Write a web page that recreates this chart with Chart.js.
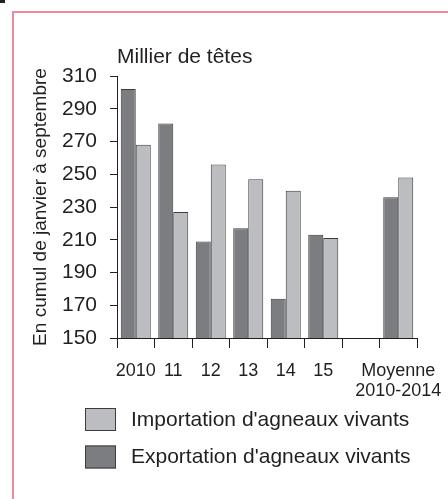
<!DOCTYPE html>
<html>
<head>
<meta charset="utf-8">
<script src="https://cdn.jsdelivr.net/npm/chart.js@4"></script>
<style>
  body { margin: 0; background: #fff; }
  #wrap { position: relative; width: 448px; height: 499px; overflow: hidden; }
  #frame { position: absolute; left: 12px; top: 11px; width: 460px; height: 520px; border: 2px solid #ea8a9b; box-sizing: border-box; }
  #mark { position: absolute; left: 0; top: 0; width: 5px; height: 3px; background: #222; }
  canvas { position: absolute; left: 0; top: 0; }
</style>
</head>
<body>
<div id="wrap">
  <div id="frame"></div>
  <div id="mark"></div>
  <canvas id="chart" width="448" height="499"></canvas>
</div>
<script>
// categories (empty slot between 15 and the average, as in the original)
const years = ['2010', '11', '12', '13', '14', '15', '', ['Moyenne', '2010-2014']];

// thousand heads, cumulated january to september
const exportValues = [302, 281, 209, 217, 174, 213, null, 236];
const importValues = [268, 227, 256, 247, 240, 211, null, 248];

const yMin = 150;
const yMax = 310;
const yStep = 20;

const ink = '#231f20';
const font = 'Arial, "Liberation Sans", sans-serif';

// unit label above the y axis + legend drawn under the axis
const extras = {
    id: 'extras',
    afterDraw(chart) {
        const ctx = chart.ctx;
        const area = chart.chartArea;

        ctx.save();
        ctx.fillStyle = ink;
        ctx.font = '21px ' + font;
        ctx.textBaseline = 'alphabetic';
        ctx.textAlign = 'left';
        ctx.fillText('Millier de têtes', area.left, 63);

        // legend : import first, export second
        const items = chart.data.datasets.slice().reverse();
        items.forEach((ds, i) => {
            const y = 408 + i * 37.5;
            ctx.fillStyle = ds.backgroundColor;
            ctx.fillRect(85, y, 31, 23);
            ctx.strokeStyle = ds.borderColor;
            ctx.lineWidth = 1;
            ctx.strokeRect(85.5, y + 0.5, 30, 22);

            ctx.fillStyle = ink;
            ctx.textBaseline = 'middle';
            ctx.fillText(ds.label, 131, y + 12);
        });
        ctx.restore();
    }
};

new Chart(document.getElementById('chart'), {
    type: 'bar',
    data: {
        labels: years,
        datasets: [
            {
                label: "Exportation d'agneaux vivants",
                data: exportValues,
                backgroundColor: '#7c7d81',
                borderColor: '#3c3c3e',
                borderWidth: 1
            },
            {
                label: "Importation d'agneaux vivants",
                data: importValues,
                backgroundColor: '#bcbdc1',
                borderColor: '#3c3c3e',
                borderWidth: 1
            }
        ]
    },
    options: {
        responsive: false,
        animation: false,
        categoryPercentage: 0.8,
        barPercentage: 1.0,
        layout: { padding: { left: 0, top: 76, right: 31, bottom: 0 } },
        plugins: {
            legend: { display: false },
            tooltip: { enabled: false }
        },
        scales: {
            x: {
                afterFit(scale) {
                    scale.height = 161;
                    scale.paddingLeft = 0;
                    scale.paddingRight = 0;
                },
                grid: {
                    offset: true,
                    drawOnChartArea: false,
                    tickLength: 10,
                    tickColor: ink
                },
                border: { display: true, color: ink, width: 1 },
                ticks: {
                    color: ink,
                    padding: 13,
                    maxRotation: 0,
                    autoSkip: false,
                    font: { family: font, size: 18, lineHeight: 1.1 }
                }
            },
            y: {
                min: yMin,
                max: yMax,
                afterFit(scale) { scale.width = 117; },
                grid: {
                    drawOnChartArea: false,
                    tickLength: 7,
                    tickColor: ink
                },
                border: { display: true, color: ink, width: 1 },
                ticks: {
                    stepSize: yStep,
                    color: ink,
                    padding: 13,
                    font: { family: font, size: 21 }
                },
                title: {
                    display: true,
                    text: 'En cumul de janvier à septembre',
                    color: ink,
                    padding: { top: 29, bottom: 0 },
                    font: { family: font, size: 19 }
                }
            }
        }
    },
    plugins: [extras]
});
</script>
</body>
</html>
